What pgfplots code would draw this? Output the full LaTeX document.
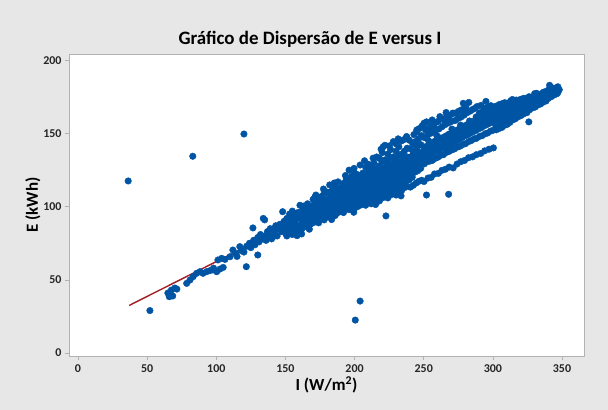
\documentclass[border=0pt]{standalone}
\usepackage{pgfplots}
\pgfplotsset{compat=1.18}
\usepackage{fontspec}
\setmainfont{Carlito}
\definecolor{bg}{RGB}{231,231,231}
\definecolor{pt}{RGB}{0,84,164}
\definecolor{fit}{RGB}{165,28,36}
\definecolor{frame}{RGB}{178,178,178}
\begin{document}
\begin{tikzpicture}
\fill[bg] (0,0) rectangle (608bp,410bp);
\node[font=\bfseries\fontsize{19}{22}\selectfont] at (310bp,371bp) {Gráfico de Dispersão de E versus I};
\begin{axis}[
  at={(69bp,54bp)}, anchor=south west,
  width=515bp, height=302bp, scale only axis,
  xmin=-6.5, xmax=365.9, ymin=-2.05, ymax=204.4,
  axis background/.style={fill=white},
  axis line style={frame, line width=0.8pt},
  xtick={0,50,...,350}, ytick={0,50,...,200},
  tick align=outside, tick pos=left,
  major tick length=4bp,
  tick style={frame, line width=0.7pt},
  /pgf/number format/assume math mode=true,
  ticklabel style={font=\bfseries\fontsize{12}{14}\selectfont, text=black!85},
  xticklabel style={yshift=-1bp},
  xlabel={I (W/m\textsuperscript{2})},
  ylabel={E (kWh)},
  label style={font=\bfseries\fontsize{17}{20}\selectfont},
  xlabel style={yshift=3bp},
  ylabel style={yshift=-4bp},
]
\addplot[fit, line width=1.4pt] coordinates {(37,32.5) (348,180.5)};
\addplot[only marks, mark=*, mark size=3.3pt, mark options={draw=pt, fill=pt}] coordinates {
(36.3,117.6)(83,134.5)(120,149.7)(200.5,22.5)(204,35.5)(52,29)
(65,41)(67.5,43)(70,44.4)(71.5,43.7)(68.5,39)(66,38.5)
(78.6,47.6)(81,49.9)(83.3,52.2)(85.8,54.5)(88.2,55.6)(90.4,54.5)(93,55.6)(95.4,56.3)(97.6,56.8)(100.3,55.6)(102.7,57.4)(101.2,63.6)(103.9,64.7)(106.3,64)(109.9,65.8)(105,58.5)(98,58)
(112,70.4)(114,68)(115,66)(117,72.7)(118,70)(120,69)(121.7,59)(122,73)(124,75)(125,72)(126.5,85.5)(127,77)(128,74)(130,67)(130,79)(131,76)(132,81)(133,78)(134,92)(135,91)(135,80)(136,77)(137,83)(138,80)(139,85)(140,78)(141,79.5)(141,84)(142,82)(143,87)(144,80)(145,85)(146,88)(147,83)(148,96.6)(148,86)(149,90)(150,82)
(151,80)(151,84)(151,88)(151,92)
(153,83)(153,86)(153,90)(153,95)
(155,81)(155,85)(155,89)(155,93)(155,97)
(157,84)(157,88)(157,91)(157,95)
(159,83)(159,87)(159,92)(159,96)
(160.5,101)(161.7,81.4)
(162,85)(162,89)(162,93)(162,97)
(164,87)(164,91)(164,95)(164,99)
(166,86)(166,90)(166,94)(166,98)(166,102)
(168,88)(168,92)(168,96)(168,100)
(170,89)(170,93)(170,97)(170,101)(170,105)
(172,90)(172,94)(172,98)(172,102)(172,108)
(174,89)(174,93)(174,96)(174,100)(174,104)
(176,92)(176,95)(176,99)(176,103)(176,107)
(178,91)(178,96)(178,100)(178,104)(178,109)
(180,93)(180,97)(180,101)(180,105)(180,110)
(182,94)(182,98)(182,102)(182,106)(182,110)(182,114.9)
(184,95)(184,99)(184,103)(184,107)(184,111)
(186,94)(186,97)(186,101)(186,105)(186,109)(186,113)
(188,96)(188,100)(188,104)(188,108)(188,112)(188,117)
(190,97)(190,101)(190,105)(190,109)(190,113)
(192,96)(192,100)(192,104)(192,108)(192,112)(192,116)
(194,99)(194,103)(194,107)(194,111)(194,115)(194,119)
(196,98)(196,102)(196,106)(196,110)(196,114)(196,118)(196,125)
(198,100)(198,104)(198,108)(198,112)(198,116)(198,121)
(200,99)(200,103)(200,107)(200,111)(200,115)(200,119)(200,123)
(202,100)(202,105)(202,109)(202,113)(202,117)(202,122)
(204,101)(204,104)(204,108)(204,112)(204,116)(204,120)(204,128.5)
(206,102)(206,106)(206,110)(206,114)(206,118)(206,123)
(208,101)(208,105)(208,109)(208,113)(208,117)(208,121)(208,127)
(210,103)(210,107)(210,111)(210,115)(210,119)(210,124)(210,129)
(212,102)(212,106)(212,110)(212,114)(212,118)(212,122)(212,127)
(214,104)(214,108)(214,112)(214,116)(214,120)(214,124)(214,130)
(216,105)(216,109)(216,113)(216,117)(216,121)(216,126)(216,134)
(218,104)(218,108)(218,112)(218,116)(218,120)(218,124)(218,128)(218,133)
(220,106)(220,110)(220,114)(220,118)(220,122)(220,126)(220,131)(220,137)
(220.7,141)(222,142)(222.7,93.7)
(222,107)(222,111)(222,115)(222,119)(222,123)(222,127)(222,132)
(224,106)(224,110)(224,114)(224,118)(224,122)(224,126)(224,130)(224,136)
(226,108)(226,112)(226,116)(226,120)(226,124)(226,128)(226,133)(226,139)
(228,109)(228,113)(228,117)(228,121)(228,125)(228,129)(228,134)(228,144.5)
(230,108)(230,112)(230,116)(230,120)(230,124)(230,128)(230,132)(230,138)(230,143)
(232,110)(232,114)(232,118)(232,122)(232,126)(232,130)(232,135)(232,141)
(234,111)(234,115)(234,119)(234,123)(234,127)(234,131)(234,136)(234,145)
(236,113)(236,117)(236,121)(236,125)(236,129)(236,133)(236,138)(236,146)
(237.6,148)
(238,114)(238,118)(238,122)(238,126)(238,130)(238,134)(238,140)(238,147)
(163.5,100.5)(171.2,106.4)(177.5,112.1)(185.3,116.2)(193.4,121.3)(199.6,126.2)(207.2,131.4)(213.4,133.2)(219.2,139.3)(225.2,141.6)(231.5,146.4)
(158.4,80.2)(167.3,84.6)(183.4,91.2)(199.4,96.2)(215.2,101.5)(233.6,107.4)
(240.3,113.4)(239.6,118.5)(240.8,122.6)(240.1,126.3)(239.8,130.5)(240.6,134.2)(240.2,139.6)(239.7,145.4)
(242.4,114.6)(241.7,120.2)(242.8,125.6)(242.1,129.4)(241.9,133.5)(242.6,137.2)(242.2,142.8)(242.9,149.3)
(244.5,116.2)(243.8,123.7)(244.9,127.3)(244.2,131.6)(243.6,135.4)(244.7,139.5)(244.1,144.6)(244.8,151.2)
(245,152.5)
(246.4,117.3)(245.7,124.6)(246.9,128.5)(246.1,132.4)(246.6,136.7)(245.9,141.6)(246.3,146.5)(246.8,153.4)
(248.5,118.1)(247.8,126.2)(248.9,129.7)(248.2,133.6)(248.6,137.3)(247.9,142.4)(248.3,148.6)(248.8,155.2)
(250.2,117.2)(253.1,119.6)(255.4,120.1)(257.8,122.4)(260.6,122.8)(263.2,124.9)(265.7,125.6)(268.4,127.1)(271.3,126.5)(274.1,129.2)(276.8,130.8)(279.5,131.6)(282.4,133.5)(285.3,134.1)(288.1,135.6)(291.2,136.4)(294.1,138.2)(297.2,139.3)(300.4,140.2)
(250.4,129.3)(249.8,133.2)(250.7,137.4)(250.1,140.8)
(252.3,130.6)(251.7,134.4)(252.8,138.5)(252.2,141.3)(252,108)
(254.5,131.2)(253.9,135.3)(254.6,139.6)(254.1,142.9)
(256.3,131.7)(255.8,136.2)(256.7,140.4)(256.2,143.6)
(258.4,133.1)(257.7,137.6)(258.8,141.2)(258.1,144.8)
(260.2,133.8)(259.6,138.2)(260.9,142.5)(260.4,145.3)
(262.5,135.2)(261.8,139.4)(262.7,143.8)(262.2,146.9)
(264.3,135.6)(263.7,140.3)(264.8,144.2)(264.1,147.3)
(266.4,137.1)(265.9,141.2)(266.6,145.7)(266.1,148.4)
(268.3,137.8)(267.7,142.1)(268.8,146.3)(268.2,149.6)(268,108.5)
(270.5,138.9)(269.8,143.2)(270.7,147.5)(270.2,150.3)
(272.2,139.5)(271.6,144.1)(272.9,148.2)(272.4,151.6)
(274.4,140.8)(273.8,145.2)(274.6,149.5)(274.1,152.4)
(276.3,141.4)(275.7,146.1)(276.8,150.2)(276.2,153.5)
(278.5,142.6)(277.9,147.3)(278.7,151.4)(278.3,154.2)
(280.2,143.1)(279.6,148.4)(280.8,152.2)(280.4,155.6)
(282.4,144.5)(281.8,149.2)(282.6,153.6)(282.1,156.3)
(284.3,145.2)(283.7,150.3)(284.9,154.1)(284.2,157.4)
(286.5,146.4)(285.8,151.3)(286.7,155.2)(286.1,158.5)
(288.2,146.8)(287.6,152.1)(288.8,156.4)(288.4,159.3)
(290.4,148.1)(289.7,153.2)(290.6,157.2)(290.2,160.4)
(292.3,148.6)(291.8,154.1)(292.9,158.3)(292.2,161.5)
(294.5,149.9)(293.7,155.3)(294.6,159.1)(294.1,162.2)
(296.2,150.4)(295.8,156.2)(296.8,160.3)(296.4,163.4)
(298.4,151.7)(297.7,157.1)(298.6,161.2)(298.1,164.3)
(300.3,152.3)(299.6,158.2)(300.8,162.4)(300.2,165.1)
(250.6,147.2)(251.3,152.4)(250.2,157.1)
(252.4,148.6)(253.2,153.5)(252,158)
(254.8,150.1)(255.5,155.4)
(256.6,151.3)(257.4,156.2)(256.1,159.3)
(258.9,152.6)(259.2,157.8)
(261.1,153.2)(261.7,161.6)(260.5,158.4)
(263.3,154.7)(264.1,159.6)
(265.4,156.1)(266.3,161.2)(266.2,164.4)
(267.8,157.3)(268.6,162.1)
(269.9,158.2)(270.8,163.5)(271,164)
(272.6,158.9)(273.4,164.2)
(274.7,160.3)(275.5,165.4)
(276.9,161.2)(277.6,166.3)
(278.6,170.7)(280.4,168.3)(279.2,162.6)(282.6,171.3)(281.3,164.2)
(283.5,165.3)(285.1,166.4)(286.9,167.2)(288.6,168.5)(290.2,164.1)(291.5,169.3)(293.1,165.8)(295,172)(294.7,167.2)(296.8,168.4)(298.5,169.1)(297.3,166.2)
(253.5,145.2)(259.4,148.7)(270.4,153.1)(276.6,155.8)(283.1,158.6)(287.9,161.4)(292.6,163.2)
(302.4,152.6)(301.7,156.3)(302.8,160.4)(302.2,164.2)(301.9,168.6)
(304.3,153.4)(303.8,157.5)(304.7,161.3)(304.1,165.4)(304.5,169.8)
(306.5,154.2)(305.7,158.6)(306.8,162.3)(306.2,166.5)(306.6,170.4)
(308.3,155.6)(307.8,159.2)(308.9,163.4)(308.1,167.2)(308.5,171.1)
(310.4,156.3)(309.6,160.5)(310.7,164.2)(310.2,168.4)(310,170.7)
(312.3,157.6)(311.8,161.3)(312.6,165.5)(312.1,169.2)(312.8,172.3)
(314.6,159.4)(313.7,162.6)(314.9,166.2)(314.3,170.4)(314.1,173.3)
(316.4,160.2)(315.8,163.5)(316.7,167.3)(316.2,171.2)(317,172.9)
(318.5,161.6)(317.6,164.4)(318.9,168.6)(318.2,172.1)
(320.3,162.3)(319.8,165.6)(320.7,169.2)(320.1,173.4)
(322.4,163.5)(321.7,166.3)(322.8,170.4)(322.2,174.1)
(324.6,164.3)(323.8,167.6)(324.3,171.2)(324,174)
(326,158)(326.4,166.2)(325.7,169.3)(326.8,173.1)(326.2,175.2)
(328.3,167.4)(327.7,170.2)(328.6,174.3)
(330.5,168.1)(329.8,171.4)(330.7,175.2)(330.2,177.3)
(332.3,169.4)(331.6,172.3)(332.8,176.2)(331.6,177.5)
(334.4,170.2)(333.7,173.5)(334.8,177.1)
(336.2,171.4)(335.8,174.2)(336.6,178.3)
(338.5,172.3)(337.7,175.4)(338.9,179.1)
(340.2,174.1)(339.6,177.4)(340.7,180.2)(341,183)
(342.4,175.3)(341.8,178.2)(342.6,181.4)
(344.3,176.4)(343.7,180.1)
(346.2,177.2)(345.8,181.3)
(347,182)(347,178)(348,180)
};
\end{axis}
\end{tikzpicture}
\end{document}
